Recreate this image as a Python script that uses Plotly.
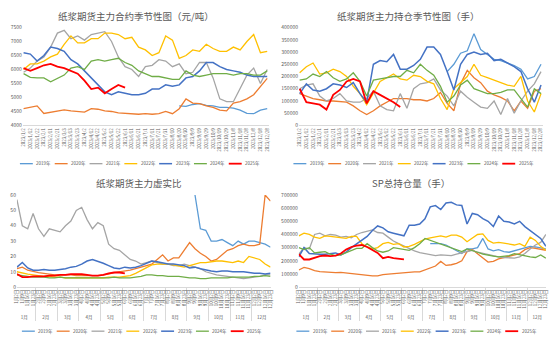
import datetime as dt
import plotly.graph_objects as go

N = None
YEARS = ["2019年", "2020年", "2021年", "2022年", "2023年", "2024年", "2025年"]
COLORS = ["#5B9BD5", "#ED7D31", "#A5A5A5", "#FFC000", "#4472C4", "#70AD47", "#FF0000"]
WIDTHS = [1.3, 1.3, 1.3, 1.3, 1.5, 1.3, 1.8]

# ---------- top charts: one value every 10 days starting 2023/1/2 ----------
TOP_OFFSETS = list(range(1, 362, 10))  # days after Jan 1

TL_2019 = [N] * 23 + [4700, 4680, 4750, 4780, 4720, 4700, 4650, 4650, 4620, 4550, 4430, 4420, 4550, 4600]
TL_2020 = [4600, 4650, 4700, 4430, 4480, 4520, 4560, 4520, 4500, 4480, 4600, 4580, 4520, 4500, 4450, 4430,
           4420, 4400, 4420, 4400, 4420, 4500, 4420, 4600, 4950, 4800, 4780, 4700, 4650, 4550, 4520, 4800,
           4850, 4950, 5100, 5400, 5680]
TL_2021 = [5900, 6050, 6300, 6450, 6800, 7300, 7400, 7100, 7200, 7050, 7250, 7300, 7350, 7000, 6450, 6100,
           6000, 5750, 6100, 6150, 6350, 6300, 6100, 6200, 5850, 5900, 6250, 6250, 5700, 4950, 4850, 4850,
           5300, 5800, 6050, 5500, 6000]
TL_2022 = [6000, 6200, 6200, 6300, 6450, 6550, 6900, 7200, 6950, 6950, 7100, 7100, 7300, 7300, 7250, 7100,
           7150, 6800, 6700, 6500, 6600, 7200, 7050, 6400, 6500, 6700, 6650, 6900, 6750, 6650, 6650, 6800,
           6700, 7000, 7250, 6600, 6650]
TL_2023 = [6600, 6550, 6300, 6500, 6800, 6750, 6650, 6350, 6200, 5950, 5700, 5450, 5200, 5100, 5200, 5150,
           5100, 5100, 5150, 5300, 5300, 5450, 5400, 5450, 5700, 5750, 5950, 6250, 6250, 6100, 6000, 5950,
           5900, 5800, 5750, 5750, 5750]
TL_2024 = [5850, 5720, 5700, 5700, 5560, 5680, 5800, 6050, 6100, 6000, 6300, 6350, 6300, 6350, 6400, 6250,
           6150, 5950, 5850, 5750, 5750, 5700, 5650, 5650, 5950, 5800, 5750, 5800, 5850, 5850, 5850, 5800,
           5850, 5850, 5800, 5800, 5950]
TL_2025 = [6050, 5950, 6050, 6150, 6200, 6100, 6050, 5950, 5850, 5600, 5300, 5350, 5150, 5300, 5450, 5350] + [N] * 21

TR_2019 = [N] * 22 + [220000, 250000, 295000, 305000, 375000, 310000, 290000, 270000, 265000, 255000, 245000,
                      230000, 190000, 200000, 250000]
TR_2020 = [130000, 120000, 110000, 105000, 100000, 100000, 98000, 95000, 80000, 60000, 45000, 60000, 80000,
           95000, 110000, 110000, 110000, 105000, 105000, 100000, 110000, 135000, 90000, 60000, 170000, 225000,
           195000, 175000, 140000, 125000, 115000, 100000, 60000, 100000, 70000, 140000, 150000]
TR_2021 = [150000, 165000, 170000, 120000, 100000, 110000, 130000, 100000, 95000, 95000, 110000, 140000, 80000,
           65000, 60000, 130000, 70000, 150000, 170000, 175000, 190000, 145000, 120000, 80000, 140000, 115000,
           95000, 75000, 70000, 100000, 45000, 110000, 50000, 100000, 140000, 170000, 220000]
TR_2022 = [215000, 240000, 255000, 210000, 215000, 230000, 220000, 200000, 160000, 130000, 85000, 130000, 180000,
           195000, 210000, 190000, 185000, 205000, 200000, 180000, 170000, 110000, 65000, 150000, 175000, 200000,
           250000, 205000, 195000, 185000, 175000, 165000, 160000, 200000, 100000, 55000, 130000]
TR_2023 = [130000, 170000, 145000, 140000, 150000, 170000, 165000, 155000, 175000, 130000, 95000, 250000, 265000,
           260000, 290000, 230000, 230000, 245000, 270000, 320000, 320000, 290000, 220000, 145000, 250000, 290000,
           300000, 290000, 295000, 265000, 270000, 255000, 240000, 220000, 150000, 95000, 165000]
TR_2024 = [185000, 190000, 210000, 200000, 220000, 195000, 180000, 190000, 215000, 180000, 120000, 185000, 190000,
           195000, 200000, 200000, 225000, 215000, 250000, 225000, 205000, 160000, 95000, 120000, 165000, 185000,
           150000, 140000, 130000, 130000, 135000, 145000, 145000, 110000, 75000, 150000, 130000]
TR_2025 = [150000, 95000, 90000, 85000, 65000, 125000, 145000, 180000, 190000, 180000, 90000, 140000, 125000,
           110000, 95000, 75000] + [N] * 21

# ---------- bottom charts: four points per month ----------
MONTHS = list(range(1, 13))
DAYS_OF_MONTH = [2, 9, 16, 23]

BL_2019 = [N] * 33 + [60, 38, 37, 30, 30, 31, 29, 27, 30, 28, 30, 30, 29, 28, 26]
BL_2020 = [12, 13, 11, 10, 9.5, 9, 8.5, 8, 8, 8, 8, 7.5, 7.5, 7.5, 7.5, 7.5, 8, 8.5, 9.5, 10, 10.5, 11, 12, 13,
           14, 15, 18, 21, 17, 19, 19, 24, 29, 25, 22, 20, 17, 18, 21, 24, 25, 27, 28, 27, 27, 28, 60, 56]
BL_2021 = [57, 40, 38, 48, 38, 33, 38, 37, 36, 40, 43, 50, 52, 44, 38, 42, 40, 28, 25, 24, 21, 18, 17, 15,
           16, 17, 16, 15, 15, 14, 14, 15, 14, 13, 12, 10, 9, 8, 7.5, 7, 6.5, 6, 5.5, 6, 6.5, 7, 8, 8]
BL_2022 = [10, 9, 8.5, 8, 7.5, 7, 7, 6.5, 6.5, 6, 6, 6, 6, 6, 6, 6, 6, 6.5, 6.5, 6.5, 7, 7.5, 9, 11,
           13, 14.5, 15, 15, 15, 14.5, 13.5, 13, 14, 15, 16, 16, 16.5, 17, 17, 16.5, 16, 17, 16, 20, 19, 18, 15, 13]
BL_2023 = [13, 16, 12.5, 11, 11, 11.5, 11, 11, 11.5, 12, 13, 13.5, 15, 17, 18, 17, 15.5, 14, 12.5, 12, 13, 12.5,
           13, 14, 15.5, 17, 16.5, 15.5, 15, 15, 14.5, 14, 12.5, 13, 12, 11, 10.5, 10, 10.5, 10.5, 10, 10, 10,
           9.5, 9, 9, 8.5, 9]
BL_2024 = [8, 7.5, 7, 6.5, 6.5, 6.5, 6, 6, 6.5, 6, 6, 6, 6, 6, 6, 6, 6, 6, 6.5, 6, 6, 6, 6.5, 7, 8, 8, 7.5,
           7.5, 7, 7, 7, 6.5, 6, 6, 5.5, 5.5, 6, 6, 6, 6, 6.5, 6.5, 6.5, 6.5, 7, 7, 7.5, 7]
BL_2025 = [8.5, 6.5, 6.5, 7, 7, 7, 7.5, 7.5, 8, 8, 8.5, 8.5, 8.5, 8, 7.5, 7.5, 8, 9, 9.5, 9.5, 9] + [N] * 27

BR_2019 = [N] * 25 + [330000, 330000, 330000, 320000, 300000, 280000, 255000, 290000, 290000, 300000, 370000,
                      290000, 275000, 285000, 270000, 265000, 275000, 290000, 300000, 310000, 305000, 295000, 290000]
BR_2020 = [130000, 150000, 140000, 125000, 118000, 115000, 112000, 110000, 112000, 108000, 100000, 95000, 92000,
           88000, 85000, 85000, 95000, 98000, 102000, 105000, 108000, 112000, 115000, 115000, 130000, 145000,
           160000, 195000, 165000, 170000, 180000, 200000, 270000, 285000, 255000, 225000, 190000, 195000, 215000,
           225000, 235000, 245000, 255000, 285000, 300000, 295000, 285000, 280000]
BR_2021 = [250000, 300000, 290000, 400000, 410000, 390000, 400000, 395000, 380000, 385000, 375000, 400000, 415000,
           425000, 435000, 415000, 410000, 380000, 350000, 330000, 310000, 295000, 275000, 262000, 255000, 248000,
           240000, 245000, 245000, 240000, 250000, 260000, 270000, 280000, 265000, 255000, 245000, 240000, 230000,
           225000, 220000, 220000, 230000, 255000, 290000, 320000, 340000, 400000]
BR_2022 = [390000, 410000, 400000, 380000, 370000, 390000, 385000, 380000, 372000, 370000, 385000, 385000, 330000,
           305000, 290000, 300000, 330000, 340000, 325000, 330000, 305000, 310000, 325000, 345000, 365000, 375000,
           385000, 390000, 380000, 395000, 395000, 380000, 345000, 370000, 400000, 405000, 355000, 335000, 340000,
           335000, 325000, 320000, 330000, 310000, 380000, 355000, 310000, 280000]
BR_2023 = [230000, 300000, 255000, 250000, 250000, 250000, 255000, 260000, 245000, 265000, 300000, 330000, 360000,
           385000, 430000, 465000, 450000, 420000, 410000, 400000, 390000, 470000, 470000, 480000, 520000, 610000,
           620000, 590000, 640000, 645000, 625000, 620000, 480000, 560000, 550000, 520000, 500000, 460000, 540000,
           500000, 495000, 480000, 500000, 460000, 430000, 400000, 370000, 310000]
BR_2024 = [300000, 285000, 300000, 260000, 265000, 270000, 250000, 240000, 245000, 260000, 280000, 295000, 295000,
           330000, 300000, 275000, 265000, 275000, 300000, 295000, 290000, 280000, 300000, 330000, 370000, 355000,
           340000, 325000, 310000, 295000, 280000, 270000, 290000, 280000, 265000, 250000, 240000, 235000, 230000,
           235000, 240000, 255000, 245000, 235000, 230000, 225000, 245000, 220000]
BR_2025 = [250000, 210000, 210000, 225000, 235000, 240000, 235000, 240000, 255000, 285000, 305000, 315000, 320000,
           305000, 285000, 260000, 220000, 230000, 220000, 215000, 210000] + [N] * 27

TITLES = ["纸浆期货主力合约季节性图（元/吨）", "纸浆期货主力持仓季节性图（手）", "纸浆期货主力虚实比", "SP总持仓量（手）"]

# ---------- build ----------
FONT = "Noto Sans CJK SC, Noto Sans, sans-serif"
TXT = "#595959"
base = dt.date(2023, 1, 1)
top_dates = [base + dt.timedelta(days=o) for o in TOP_OFFSETS]
top_x = [d.isoformat() for d in top_dates]
top_ticktext = [f"{d.year}/{d.month}/{d.day}" for d in top_dates]

bot_x = [[f"{m}月" for m in MONTHS for _ in DAYS_OF_MONTH],
         [f"{m}月{d}日" for m in MONTHS for d in DAYS_OF_MONTH]]

panels = [
    ("x", "y", top_x, [TL_2019, TL_2020, TL_2021, TL_2022, TL_2023, TL_2024, TL_2025]),
    ("x2", "y2", top_x, [TR_2019, TR_2020, TR_2021, TR_2022, TR_2023, TR_2024, TR_2025]),
    ("x3", "y3", bot_x, [BL_2019, BL_2020, BL_2021, BL_2022, BL_2023, BL_2024, BL_2025]),
    ("x4", "y4", bot_x, [BR_2019, BR_2020, BR_2021, BR_2022, BR_2023, BR_2024, BR_2025]),
]

fig = go.Figure()
for xa, ya, xs, series in panels:
    for name, color, w, ys in zip(YEARS, COLORS, WIDTHS, series):
        fig.add_trace(go.Scatter(x=xs, y=ys, mode="lines", name=name, xaxis=xa, yaxis=ya,
                                 line=dict(color=color, width=w), showlegend=False,
                                 connectgaps=False, hoverinfo="skip"))

W, H = 550, 343


def px_x(v):
    return v / W


def px_y(v):
    return 1 - v / H


tickfont = dict(family=FONT, size=5, color=TXT)
top_y = [px_y(124), px_y(24)]
bot_y = [px_y(289), px_y(195)]

common_x_top = dict(type="date", range=["2023-01-01", "2023-12-31"], tickvals=top_x, ticktext=top_ticktext,
                    tickangle=-90, tickfont=dict(family=FONT, size=4.5, color=TXT), showgrid=False,
                    showline=True, linecolor="#D9D9D9", linewidth=0.8, ticks="", zeroline=False)
common_x_bot = dict(type="multicategory", tickangle=-90, tickfont=dict(family=FONT, size=4.5, color=TXT),
                    showgrid=False, showline=True, linecolor="#D9D9D9", linewidth=0.8, ticks="",
                    showdividers=True, dividercolor="#D9D9D9", dividerwidth=0.8)
common_y = dict(showgrid=False, zeroline=False, showline=False, ticks="", tickformat="d", tickfont=tickfont)

fig.update_layout(
    width=W, height=H, margin=dict(l=0, r=0, t=0, b=0),
    paper_bgcolor="white", plot_bgcolor="white",
    font=dict(family=FONT, color=TXT),
    xaxis=dict(domain=[px_x(20), px_x(267.7)], anchor="y", **common_x_top),
    yaxis=dict(domain=top_y, anchor="x", range=[4000, 7500], dtick=500, **common_y),
    xaxis2=dict(domain=[px_x(297.6), px_x(543)], anchor="y2", **common_x_top),
    yaxis2=dict(domain=top_y, anchor="x2", range=[0, 400000], dtick=50000, **common_y),
    xaxis3=dict(domain=[px_x(14), px_x(269)], anchor="y3", **common_x_bot),
    yaxis3=dict(domain=bot_y, anchor="x3", range=[0, 60], dtick=10, **common_y),
    xaxis4=dict(domain=[px_x(297.4), px_x(545.9)], anchor="y4", **common_x_bot),
    yaxis4=dict(domain=bot_y, anchor="x4", range=[0, 700000], dtick=100000, **common_y),
)

# titles
title_pos = [(133.5, 12), (408, 12), (137, 183), (410, 183)]
for t, (tx, ty) in zip(TITLES, title_pos):
    fig.add_annotation(text=t, x=px_x(tx), y=px_y(ty), xref="paper", yref="paper", showarrow=False,
                       xanchor="center", yanchor="middle", font=dict(family=FONT, size=9.5, color=TXT))

# legends (one row under each panel)
legend_pos = [(17, 163), (292, 163), (19, 334), (295, 334)]
for lx, ly in legend_pos:
    for i, (name, color, w) in enumerate(zip(YEARS, COLORS, WIDTHS)):
        x0 = lx + i * 35
        fig.add_shape(type="line", xref="paper", yref="paper", x0=px_x(x0), x1=px_x(x0 + 13),
                      y0=px_y(ly), y1=px_y(ly), line=dict(color=color, width=w))
        fig.add_annotation(text=name, x=px_x(x0 + 14.5), y=px_y(ly), xref="paper", yref="paper",
                           showarrow=False, xanchor="left", yanchor="middle",
                           font=dict(family=FONT, size=4.5, color=TXT))

fig.write_html("out.html")
